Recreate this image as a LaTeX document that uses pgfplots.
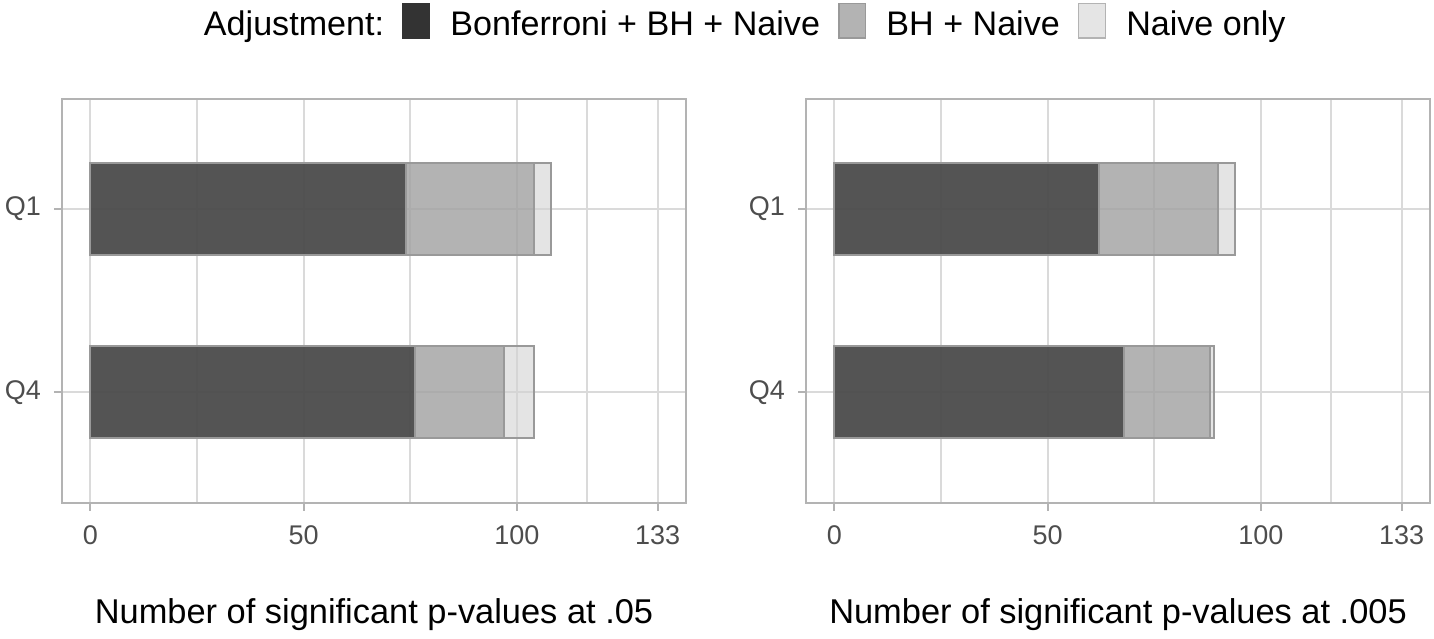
\documentclass[border=0pt]{standalone}
\usepackage{pgfplots}
\usepackage{pgfplotstable}
\pgfplotsset{compat=1.18}
\usepackage{fontspec}
\setmainfont{Liberation Sans}
\definecolor{framegrey}{HTML}{B3B3B3}
\definecolor{gridgrey}{HTML}{DADADA}
\definecolor{tickgrey}{HTML}{4D4D4D}
\definecolor{barborder}{HTML}{999999}
\definecolor{darkfill}{HTML}{171717}
\definecolor{midfill}{HTML}{929292}
\definecolor{lightfill}{HTML}{D2D2D2}
\definecolor{keydark}{HTML}{333333}
\definecolor{keymid}{HTML}{B3B3B3}
\definecolor{keylight}{HTML}{E5E5E5}

\pgfplotstableread{
y naive bh bonf
2 108 104 74
1 104 97 76
}\leftdata
\pgfplotstableread{
y naive bh bonf
2 94 90 62
1 89 88 68
}\rightdata

\pgfplotsset{
  panel/.style={
    scale only axis, width=312pt, height=202pt,
    xmin=-6.65, xmax=139.65, ymin=0.4, ymax=2.6,
    xtick={0,50,100,133}, minor xtick={25,75,116.5},
    ytick={1,2}, yticklabels={Q4,Q1},
    xmajorgrids, xminorgrids, ymajorgrids,
    grid style={gridgrey, line width=1pt},
    minor grid style={gridgrey, line width=0.9pt},
    axis line style={framegrey, line width=1pt},
    tick align=outside, xtick pos=bottom, ytick pos=left,
    major tick length=4pt, minor tick length=0pt,
    tick style={framegrey, line width=1pt},
    /pgf/number format/assume math mode=true,
    ticklabel style={font=\fontsize{13.5}{16}\selectfont, text=tickgrey},
    xticklabel style={yshift=-4pt},
    yticklabel style={xshift=-3pt},
    xlabel style={font=\fontsize{17.2}{20}\selectfont, at={(axis description cs:0.5,0)}, anchor=base, yshift=-60.5pt},
  },
  lay/.style={xbar, bar width=0.5, bar shift=0pt, line width=1pt, draw=barborder, fill opacity=0.6, draw opacity=1, forget plot},
}

\begin{document}
\begin{tikzpicture}
\path[use as bounding box] (0,0) rectangle (717pt,319pt);
\begin{axis}[panel, at={(31pt,67.75pt)}, anchor=south west,
  xlabel={Number of significant p-values at .05},
  legend columns=-1,
  legend style={at={(0.1955,1.2371)}, anchor=north west, draw=none, fill=none,
    inner sep=0pt, outer sep=0pt, font=\fontsize{17.05}{20}\selectfont,
    cells={anchor=base west}, nodes={inner sep=0pt},
    /tikz/every odd column/.append style={column sep=10pt},
    /tikz/every even column/.append style={column sep=9pt},
    /tikz/column 2/.append style={column sep=11pt}},
]
\addplot[lay, fill=lightfill] table[x=naive, y=y]{\leftdata};
\addplot[lay, fill=midfill] table[x=bh, y=y]{\leftdata};
\addplot[lay, fill=darkfill] table[x=bonf, y=y]{\leftdata};
\addlegendimage{empty legend}
\addlegendentry{Adjustment:}
\addlegendimage{legend image code/.code={\draw[fill=keydark, draw=keydark, line width=0.8pt] (0pt,-1.15pt) rectangle (13.4pt,16.15pt);}}
\addlegendentry{Bonferroni + BH + Naive}
\addlegendimage{legend image code/.code={\draw[fill=keymid, draw=barborder, line width=0.8pt] (0pt,-1.15pt) rectangle (13.4pt,16.15pt);}}
\addlegendentry{BH + Naive}
\addlegendimage{legend image code/.code={\draw[fill=keylight, draw=framegrey, line width=0.8pt] (0pt,-1.15pt) rectangle (13.4pt,16.15pt);}}
\addlegendentry{Naive only}
\end{axis}
\begin{axis}[panel, at={(403pt,67.75pt)}, anchor=south west,
  xlabel={Number of significant p-values at .005}]
\addplot[lay, fill=lightfill] table[x=naive, y=y]{\rightdata};
\addplot[lay, fill=midfill] table[x=bh, y=y]{\rightdata};
\addplot[lay, fill=darkfill] table[x=bonf, y=y]{\rightdata};
\end{axis}
\end{tikzpicture}
\end{document}
